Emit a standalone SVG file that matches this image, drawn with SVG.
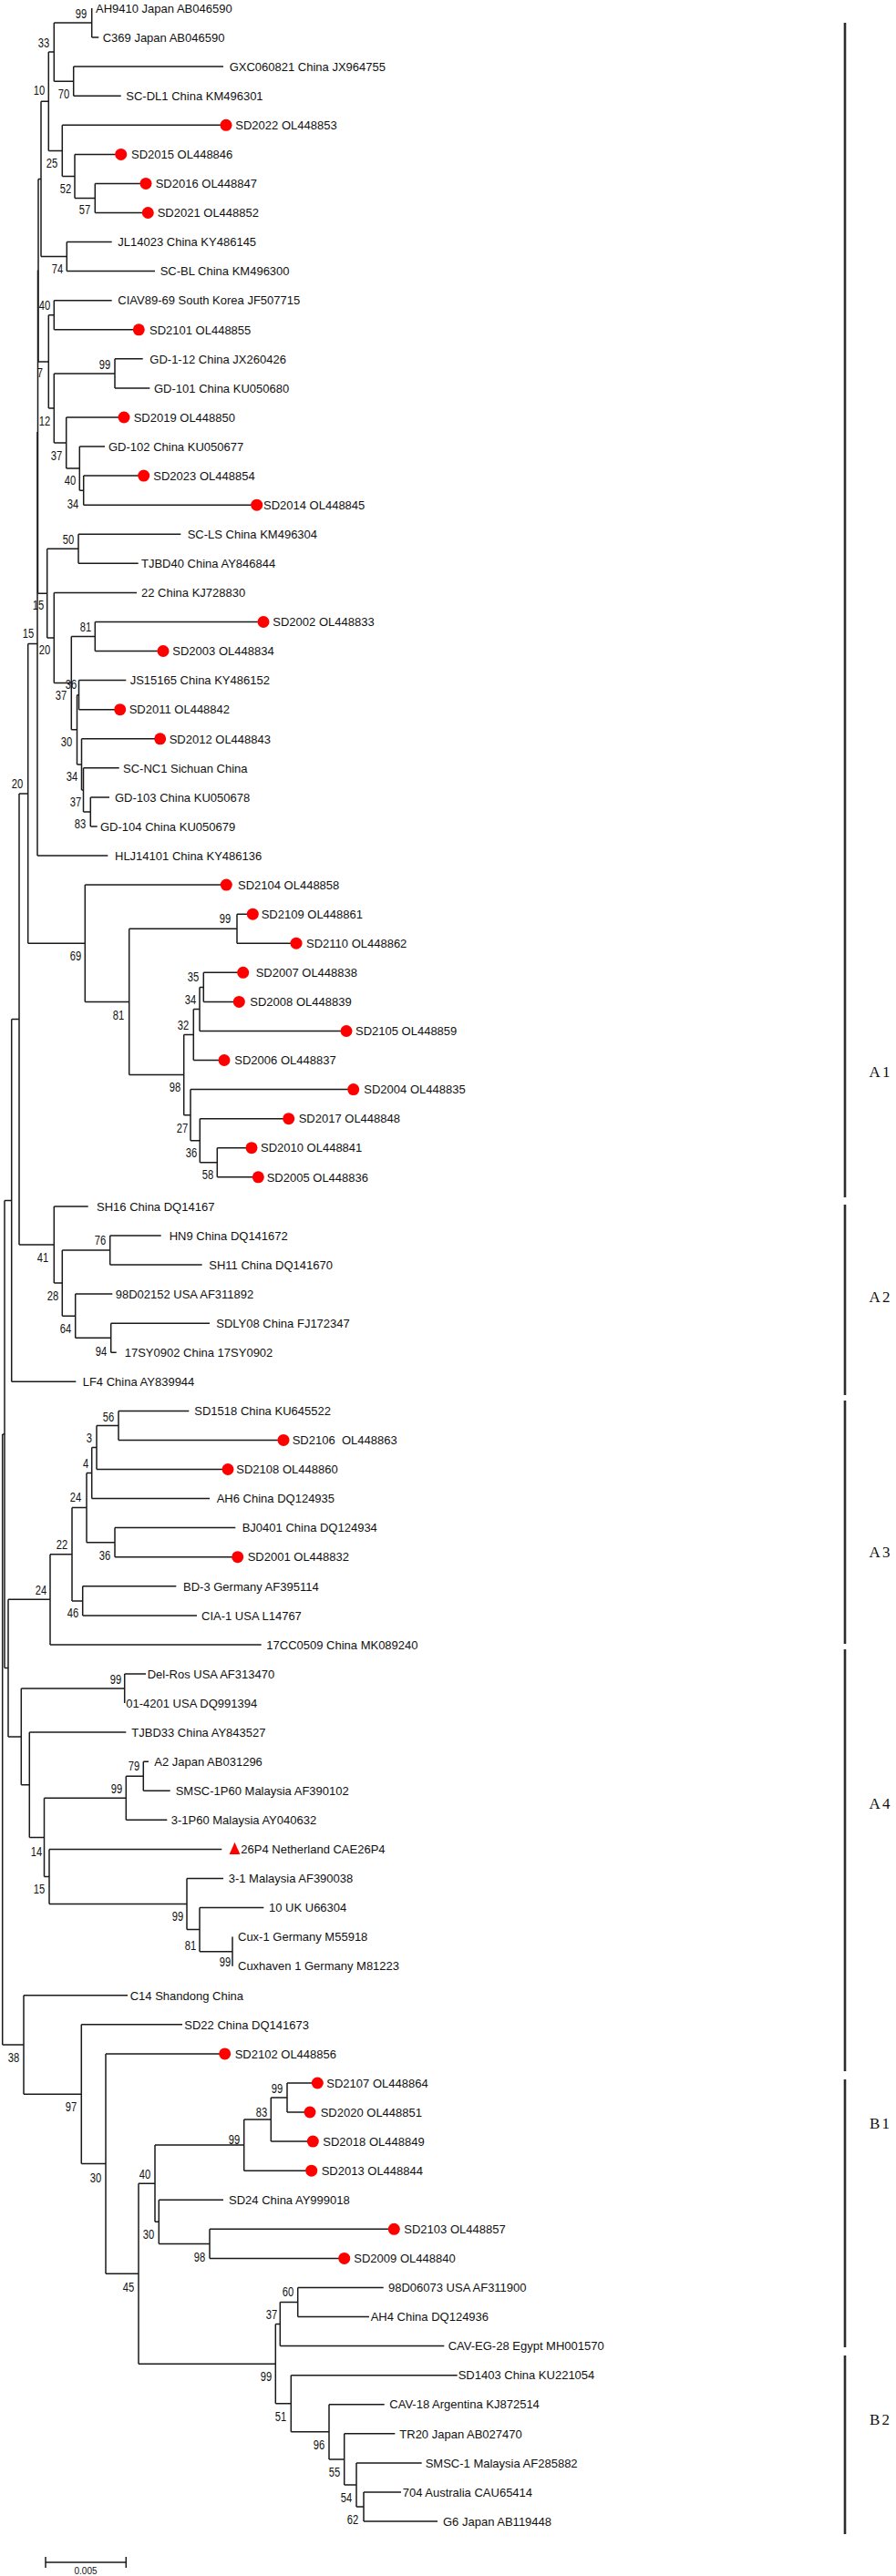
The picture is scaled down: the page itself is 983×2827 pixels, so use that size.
<svg xmlns="http://www.w3.org/2000/svg" width="983" height="2827" viewBox="0 0 983 2827">
<style>
.br{fill:none;stroke:#1a1a1a;stroke-width:1.5}
.lf{font-family:"Liberation Sans",Arial,sans-serif;font-size:13px;fill:#111}
.bs{font-family:"Liberation Sans",Arial,sans-serif;font-size:14px;fill:#111;text-anchor:middle}
.dot{fill:#ff0000}
.bar{stroke:#2b2b2b;stroke-width:2.6}
.cl{font-family:"Liberation Serif",serif;font-size:17px;letter-spacing:2px;text-anchor:middle;fill:#111}
</style>
<rect width="983" height="2827" fill="#fff"/>
<g id="connectors" class="br">
<path d="M2.7 1574V2244M2.7 1574H5M2.7 2244H26"/>
<path d="M5 1317.4V1830.6M5 1317.4H12.7M5 1830.6H9"/>
<path d="M12.7 1118.4V1516.3M12.7 1118.4H21M12.7 1516.3H83.3"/>
<path d="M21 870.9V1366M21 870.9H30.7M21 1366H59.3"/>
<path d="M30.7 706.5V1035.3M30.7 706.5H41M30.7 1035.3H93.3"/>
<path d="M41 473.9V939M41 473.9H41.5M41 939H118.3"/>
<path d="M41.5 296.6V651.2M41.5 651.2H51.7"/>
<path d="M42 196.4V396.9M42 196.4H45M42 396.9H53.3"/>
<path d="M45 111.2V281.6M45 111.2H53.3M45 281.6H73.3"/>
<path d="M53.3 57.1V165.4M53.3 57.1H59.3M53.3 165.4H68.3"/>
<path d="M59.3 25.1V89.2M59.3 25.1H100.7M59.3 89.2H80.7"/>
<path d="M100.7 9V41.1M100.7 41.1H108.3"/>
<path d="M80.7 73.1V105.2M80.7 73.1H245M80.7 105.2H132.7"/>
<path d="M68.3 137.3V193.4M68.3 137.3H248M68.3 193.4H82"/>
<path d="M82 169.4V217.5M82 169.4H132.7M82 217.5H104.3"/>
<path d="M104.3 201.4V233.5M104.3 201.4H160M104.3 233.5H162.3"/>
<path d="M73.3 265.6V297.6M73.3 265.6H122.7M73.3 297.6H170"/>
<path d="M53.3 345.8V448M53.3 345.8H59.3M53.3 448H59.3"/>
<path d="M59.3 329.7V361.8M59.3 329.7H122.7M59.3 361.8H152.3"/>
<path d="M59.3 409.9V486.1M59.3 409.9H126M59.3 486.1H72.7"/>
<path d="M126 393.8V425.9M126 393.8H156.7M126 425.9H164.3"/>
<path d="M72.7 458V514.1M72.7 458H136M72.7 514.1H87.3"/>
<path d="M87.3 490.1V538.2M87.3 490.1H115M87.3 538.2H91.7"/>
<path d="M91.7 522.1V554.2M91.7 522.1H157.7M91.7 554.2H281.7"/>
<path d="M51.7 602.3V700M51.7 602.3H86M51.7 700H59.3"/>
<path d="M86 586.3V618.3M86 586.3H198.3M86 618.3H151.7"/>
<path d="M59.3 650.4V749.6M59.3 650.4H150M59.3 749.6H78.3"/>
<path d="M78.3 698.5V800.8M78.3 698.5H104.3M78.3 800.8H84.5"/>
<path d="M104.3 682.5V714.5M104.3 682.5H289M104.3 714.5H179"/>
<path d="M84.5 762.7V838.9M84.5 762.7H86.5M84.5 838.9H89.5"/>
<path d="M86.5 746.6V778.7M86.5 746.6H138.3M86.5 778.7H131.7"/>
<path d="M89.5 810.8V866.9M89.5 810.8H175.7M89.5 866.9H91.5"/>
<path d="M91.5 842.8V891M91.5 842.8H130.7M91.5 891H99.3"/>
<path d="M99.3 874.9V907M99.3 874.9H120M99.3 907H106.7"/>
<path d="M93.3 971.1V1099.4M93.3 971.1H248.3M93.3 1099.4H141.7"/>
<path d="M141.7 1019.2V1179.6M141.7 1019.2H260M141.7 1179.6H201.7"/>
<path d="M260 1003.2V1035.2M260 1003.2H277.3M260 1035.2H325"/>
<path d="M201.7 1135.5V1223.7M201.7 1135.5H212.3M201.7 1223.7H209"/>
<path d="M212.3 1107.4V1163.5M212.3 1107.4H219M212.3 1163.5H246"/>
<path d="M219 1083.4V1131.5M219 1083.4H223.3M219 1131.5H380"/>
<path d="M223.3 1067.3V1099.4M223.3 1067.3H266.7M223.3 1099.4H262.3"/>
<path d="M209 1195.6V1251.7M209 1195.6H387.7M209 1251.7H219.3"/>
<path d="M219.3 1227.7V1275.8M219.3 1227.7H316.7M219.3 1275.8H238.3"/>
<path d="M238.3 1259.7V1291.8M238.3 1259.7H276M238.3 1291.8H283.3"/>
<path d="M59.3 1323.9V1408.1M59.3 1323.9H96.7M59.3 1408.1H68.3"/>
<path d="M68.3 1372V1444.2M68.3 1372H120.7M68.3 1444.2H82.7"/>
<path d="M120.7 1355.9V1388M120.7 1355.9H176.7M120.7 1388H221.7"/>
<path d="M82.7 1420.1V1468.2M82.7 1420.1H123.3M82.7 1468.2H121.7"/>
<path d="M121.7 1452.2V1484.2M121.7 1452.2H230M121.7 1484.2H127.7"/>
<path d="M9 1755.3V1905.9M9 1755.3H55M9 1905.9H23.3"/>
<path d="M55 1705.7V1804.9M55 1705.7H79M55 1804.9H286.7"/>
<path d="M79 1654.6V1756.9M79 1654.6H95M79 1756.9H90.7"/>
<path d="M95 1616.5V1692.7M95 1616.5H100.7M95 1692.7H126"/>
<path d="M100.7 1588.5V1644.6M100.7 1588.5H106M100.7 1644.6H230"/>
<path d="M106 1564.4V1612.5M106 1564.4H130M106 1612.5H250"/>
<path d="M130 1548.4V1580.4M130 1548.4H207.3M130 1580.4H311"/>
<path d="M126 1676.6V1708.7M126 1676.6H258.3M126 1708.7H260.7"/>
<path d="M90.7 1740.8V1772.9M90.7 1740.8H193.3M90.7 1772.9H216"/>
<path d="M23.3 1853.1V1958.8M23.3 1853.1H136.7M23.3 1958.8H32.3"/>
<path d="M136.7 1837V1869.1M136.7 1837H160"/>
<path d="M32.3 1901.1V2016.4M32.3 1901.1H138.3M32.3 2016.4H48.5"/>
<path d="M48.5 1973.3V2059.5M48.5 1973.3H138.3M48.5 2059.5H54"/>
<path d="M138.3 1949.3V1997.3M138.3 1949.3H157.3M138.3 1997.3H183.3"/>
<path d="M157.3 1933.2V1965.3M157.3 1933.2H163M157.3 1965.3H186.7"/>
<path d="M54 2029.4V2089.6M54 2029.4H243.3M54 2089.6H205"/>
<path d="M205 2061.5V2117.6M205 2061.5H245M205 2117.6H219"/>
<path d="M219 2093.6V2141.7M219 2093.6H289.3M219 2141.7H255"/>
<path d="M255 2125.6V2157.7"/>
<path d="M26 2189.8V2298.2M26 2189.8H140M26 2298.2H89.3"/>
<path d="M89.3 2221.8V2374.6M89.3 2221.8H200M89.3 2374.6H116"/>
<path d="M116 2253.9V2495.2M116 2253.9H246.7M116 2495.2H152"/>
<path d="M152 2396.2V2594.2M152 2396.2H170M152 2594.2H302.3"/>
<path d="M170 2354.1V2438.3M170 2354.1H267.7M170 2438.3H174.3"/>
<path d="M267.7 2326.1V2382.2M267.7 2326.1H297.3M267.7 2382.2H341.7"/>
<path d="M297.3 2302V2350.1M297.3 2302H315M297.3 2350.1H343.3"/>
<path d="M315 2286V2318M315 2286H348.3M315 2318H340"/>
<path d="M174.3 2414.3V2462.4M174.3 2414.3H245M174.3 2462.4H230"/>
<path d="M230 2446.3V2478.4M230 2446.3H432.3M230 2478.4H377.7"/>
<path d="M302.3 2550.6V2637.8M302.3 2550.6H307.3M302.3 2637.8H319.3"/>
<path d="M307.3 2526.5V2574.6M307.3 2526.5H326.7M307.3 2574.6H487.3"/>
<path d="M326.7 2510.5V2542.5M326.7 2510.5H420.7M326.7 2542.5H405"/>
<path d="M319.3 2606.7V2668.8M319.3 2606.7H501.7M319.3 2668.8H361"/>
<path d="M361 2638.7V2698.9M361 2638.7H421.7M361 2698.9H377.7"/>
<path d="M377.7 2670.8V2727M377.7 2670.8H433.3M377.7 2727H391"/>
<path d="M391 2702.9V2751M391 2702.9H462.7M391 2751H399"/>
<path d="M399 2735V2767M399 2735H440M399 2767H480"/>
</g>
<g id="leaves">
<g id="n00"><text class="lf" x="105" y="13.7">AH9410 Japan AB046590</text></g>
<g id="n01"><text class="lf" x="112.7" y="45.8">C369 Japan AB046590</text></g>
<g id="n02"><text class="lf" x="251.7" y="77.8">GXC060821 China JX964755</text></g>
<g id="n03"><text class="lf" x="138.3" y="109.9">SC-DL1 China KM496301</text></g>
<g id="n04"><circle class="dot" cx="248" cy="137.3" r="6.5"/><text class="lf" x="258.3" y="142">SD2022 OL448853</text></g>
<g id="n05"><circle class="dot" cx="132.7" cy="169.4" r="6.5"/><text class="lf" x="144" y="174.1">SD2015 OL448846</text></g>
<g id="n06"><circle class="dot" cx="160" cy="201.4" r="6.5"/><text class="lf" x="170.7" y="206.1">SD2016 OL448847</text></g>
<g id="n07"><circle class="dot" cx="162.3" cy="233.5" r="6.5"/><text class="lf" x="172.7" y="238.2">SD2021 OL448852</text></g>
<g id="n08"><text class="lf" x="129.3" y="270.3">JL14023 China KY486145</text></g>
<g id="n09"><text class="lf" x="175.7" y="302.3">SC-BL China KM496300</text></g>
<g id="n10"><text class="lf" x="129.3" y="334.4">CIAV89-69 South Korea JF507715</text></g>
<g id="n11"><circle class="dot" cx="152.3" cy="361.8" r="6.5"/><text class="lf" x="164" y="366.5">SD2101 OL448855</text></g>
<g id="n12"><text class="lf" x="164.3" y="398.5">GD-1-12 China JX260426</text></g>
<g id="n13"><text class="lf" x="169" y="430.6">GD-101 China KU050680</text></g>
<g id="n14"><circle class="dot" cx="136" cy="458" r="6.5"/><text class="lf" x="146.7" y="462.7">SD2019 OL448850</text></g>
<g id="n15"><text class="lf" x="119" y="494.8">GD-102 China KU050677</text></g>
<g id="n16"><circle class="dot" cx="157.7" cy="522.1" r="6.5"/><text class="lf" x="168.3" y="526.8">SD2023 OL448854</text></g>
<g id="n17"><circle class="dot" cx="281.7" cy="554.2" r="6.5"/><text class="lf" x="289" y="558.9">SD2014 OL448845</text></g>
<g id="n18"><text class="lf" x="205.7" y="591">SC-LS China KM496304</text></g>
<g id="n19"><text class="lf" x="155" y="623">TJBD40 China AY846844</text></g>
<g id="n20"><text class="lf" x="155" y="655.1">22 China KJ728830</text></g>
<g id="n21"><circle class="dot" cx="289" cy="682.5" r="6.5"/><text class="lf" x="299.3" y="687.2">SD2002 OL448833</text></g>
<g id="n22"><circle class="dot" cx="179" cy="714.5" r="6.5"/><text class="lf" x="189.3" y="719.2">SD2003 OL448834</text></g>
<g id="n23"><text class="lf" x="142.7" y="751.3">JS15165 China KY486152</text></g>
<g id="n24"><circle class="dot" cx="131.7" cy="778.7" r="6.5"/><text class="lf" x="141.7" y="783.4">SD2011 OL448842</text></g>
<g id="n25"><circle class="dot" cx="175.7" cy="810.8" r="6.5"/><text class="lf" x="185.7" y="815.5">SD2012 OL448843</text></g>
<g id="n26"><text class="lf" x="135" y="847.5">SC-NC1 Sichuan China</text></g>
<g id="n27"><text class="lf" x="126" y="879.6">GD-103 China KU050678</text></g>
<g id="n28"><text class="lf" x="110" y="911.7">GD-104 China KU050679</text></g>
<g id="n29"><text class="lf" x="126" y="943.7">HLJ14101 China KY486136</text></g>
<g id="n30"><circle class="dot" cx="248.3" cy="971.1" r="6.5"/><text class="lf" x="261" y="975.8">SD2104 OL448858</text></g>
<g id="n31"><circle class="dot" cx="277.3" cy="1003.2" r="6.5"/><text class="lf" x="286.7" y="1007.9">SD2109 OL448861</text></g>
<g id="n32"><circle class="dot" cx="325" cy="1035.2" r="6.5"/><text class="lf" x="336" y="1039.9">SD2110 OL448862</text></g>
<g id="n33"><circle class="dot" cx="266.7" cy="1067.3" r="6.5"/><text class="lf" x="280.7" y="1072">SD2007 OL448838</text></g>
<g id="n34"><circle class="dot" cx="262.3" cy="1099.4" r="6.5"/><text class="lf" x="274.3" y="1104.1">SD2008 OL448839</text></g>
<g id="n35"><circle class="dot" cx="380" cy="1131.5" r="6.5"/><text class="lf" x="390" y="1136.2">SD2105 OL448859</text></g>
<g id="n36"><circle class="dot" cx="246" cy="1163.5" r="6.5"/><text class="lf" x="257.3" y="1168.2">SD2006 OL448837</text></g>
<g id="n37"><circle class="dot" cx="387.7" cy="1195.6" r="6.5"/><text class="lf" x="399.3" y="1200.3">SD2004 OL448835</text></g>
<g id="n38"><circle class="dot" cx="316.7" cy="1227.7" r="6.5"/><text class="lf" x="327.7" y="1232.4">SD2017 OL448848</text></g>
<g id="n39"><circle class="dot" cx="276" cy="1259.7" r="6.5"/><text class="lf" x="286" y="1264.4">SD2010 OL448841</text></g>
<g id="n40"><circle class="dot" cx="283.3" cy="1291.8" r="6.5"/><text class="lf" x="292.7" y="1296.5">SD2005 OL448836</text></g>
<g id="n41"><text class="lf" x="106" y="1328.6">SH16 China DQ14167</text></g>
<g id="n42"><text class="lf" x="185.7" y="1360.6">HN9 China DQ141672</text></g>
<g id="n43"><text class="lf" x="229.3" y="1392.7">SH11 China DQ141670</text></g>
<g id="n44"><text class="lf" x="126.7" y="1424.8">98D02152 USA AF311892</text></g>
<g id="n45"><text class="lf" x="237.3" y="1456.9">SDLY08 China FJ172347</text></g>
<g id="n46"><text class="lf" x="136.7" y="1488.9">17SY0902 China 17SY0902</text></g>
<g id="n47"><text class="lf" x="90.7" y="1521">LF4 China AY839944</text></g>
<g id="n48"><text class="lf" x="213.3" y="1553.1">SD1518 China KU645522</text></g>
<g id="n49"><circle class="dot" cx="311" cy="1580.4" r="6.5"/><text class="lf" x="320.7" y="1585.1" xml:space="preserve">SD2106  OL448863</text></g>
<g id="n50"><circle class="dot" cx="250" cy="1612.5" r="6.5"/><text class="lf" x="259.3" y="1617.2">SD2108 OL448860</text></g>
<g id="n51"><text class="lf" x="237.7" y="1649.3">AH6 China DQ124935</text></g>
<g id="n52"><text class="lf" x="265.7" y="1681.3">BJ0401 China DQ124934</text></g>
<g id="n53"><circle class="dot" cx="260.7" cy="1708.7" r="6.5"/><text class="lf" x="271.7" y="1713.4">SD2001 OL448832</text></g>
<g id="n54"><text class="lf" x="201" y="1745.5">BD-3 Germany AF395114</text></g>
<g id="n55"><text class="lf" x="221" y="1777.6">CIA-1 USA L14767</text></g>
<g id="n56"><text class="lf" x="292.3" y="1809.6">17CC0509 China MK089240</text></g>
<g id="n57"><text class="lf" x="161.7" y="1841.7">Del-Ros USA AF313470</text></g>
<g id="n58"><text class="lf" x="138.3" y="1873.8">01-4201 USA DQ991394</text></g>
<g id="n59"><text class="lf" x="144.3" y="1905.8">TJBD33 China AY843527</text></g>
<g id="n60"><text class="lf" x="169.3" y="1937.9">A2 Japan AB031296</text></g>
<g id="n61"><text class="lf" x="192.7" y="1970">SMSC-1P60 Malaysia AF390102</text></g>
<g id="n62"><text class="lf" x="187.7" y="2002">3-1P60 Malaysia AY040632</text></g>
<g id="n63"><polygon class="dot" points="257.5,2021.8 251.6,2035 263.4,2035"/><text class="lf" x="264.3" y="2034.1">26P4 Netherland CAE26P4</text></g>
<g id="n64"><text class="lf" x="250.7" y="2066.2">3-1 Malaysia AF390038</text></g>
<g id="n65"><text class="lf" x="295" y="2098.3">10 UK U66304</text></g>
<g id="n66"><text class="lf" x="261" y="2130.3">Cux-1 Germany M55918</text></g>
<g id="n67"><text class="lf" x="261" y="2162.4">Cuxhaven 1 Germany M81223</text></g>
<g id="n68"><text class="lf" x="142.7" y="2194.5">C14 Shandong China</text></g>
<g id="n69"><text class="lf" x="202.3" y="2226.5">SD22 China DQ141673</text></g>
<g id="n70"><circle class="dot" cx="246.7" cy="2253.9" r="6.5"/><text class="lf" x="257.7" y="2258.6">SD2102 OL448856</text></g>
<g id="n71"><circle class="dot" cx="348.3" cy="2286" r="6.5"/><text class="lf" x="358.3" y="2290.7">SD2107 OL448864</text></g>
<g id="n72"><circle class="dot" cx="340" cy="2318" r="6.5"/><text class="lf" x="351.7" y="2322.7">SD2020 OL448851</text></g>
<g id="n73"><circle class="dot" cx="343.3" cy="2350.1" r="6.5"/><text class="lf" x="354.3" y="2354.8">SD2018 OL448849</text></g>
<g id="n74"><circle class="dot" cx="341.7" cy="2382.2" r="6.5"/><text class="lf" x="352.7" y="2386.9">SD2013 OL448844</text></g>
<g id="n75"><text class="lf" x="251" y="2419">SD24 China AY999018</text></g>
<g id="n76"><circle class="dot" cx="432.3" cy="2446.3" r="6.5"/><text class="lf" x="443.3" y="2451">SD2103 OL448857</text></g>
<g id="n77"><circle class="dot" cx="377.7" cy="2478.4" r="6.5"/><text class="lf" x="388.3" y="2483.1">SD2009 OL448840</text></g>
<g id="n78"><text class="lf" x="426" y="2515.2">98D06073 USA AF311900</text></g>
<g id="n79"><text class="lf" x="406.7" y="2547.2">AH4 China DQ124936</text></g>
<g id="n80"><text class="lf" x="491.7" y="2579.3">CAV-EG-28 Egypt MH001570</text></g>
<g id="n81"><text class="lf" x="502.7" y="2611.4">SD1403 China KU221054</text></g>
<g id="n82"><text class="lf" x="427.3" y="2643.4">CAV-18 Argentina KJ872514</text></g>
<g id="n83"><text class="lf" x="438.3" y="2675.5">TR20 Japan AB027470</text></g>
<g id="n84"><text class="lf" x="466.7" y="2707.6">SMSC-1 Malaysia AF285882</text></g>
<g id="n85"><text class="lf" x="441.7" y="2739.7">704 Australia CAU65414</text></g>
<g id="n86"><text class="lf" x="486" y="2771.7">G6 Japan AB119448</text></g>
</g>
<g id="bootstrap" class="bs" transform="scale(0.8 1)">
<text x="111.25" y="20">99</text><text x="60" y="52">33</text><text x="87.5" y="108">70</text><text x="53.75" y="104">10</text>
<text x="71.25" y="184">25</text><text x="90" y="212">52</text><text x="116.25" y="235">57</text><text x="78.75" y="300">74</text>
<text x="61.25" y="340">40</text><text x="55" y="414">7</text><text x="143.75" y="405">99</text><text x="61.25" y="467">12</text>
<text x="77.5" y="505">37</text><text x="96.25" y="532">40</text><text x="100" y="558">34</text><text x="93.75" y="597">50</text>
<text x="52.5" y="669">15</text><text x="38.75" y="700">15</text><text x="61.25" y="718">20</text><text x="117.5" y="693">81</text>
<text x="97.5" y="756">36</text><text x="83.75" y="768">37</text><text x="91.25" y="819">30</text><text x="98.75" y="857">34</text>
<text x="103.75" y="885">37</text><text x="110" y="909">83</text><text x="23.75" y="865">20</text><text x="308.75" y="1013">99</text>
<text x="103.75" y="1054">69</text><text x="265" y="1077">35</text><text x="261.25" y="1102">34</text><text x="162.5" y="1119">81</text>
<text x="251.25" y="1130">32</text><text x="240" y="1198">98</text><text x="250" y="1243">27</text><text x="262.5" y="1270">36</text>
<text x="285" y="1294">58</text><text x="58.75" y="1385">41</text><text x="137.5" y="1366">76</text><text x="72.5" y="1427">28</text>
<text x="90" y="1463">64</text><text x="138.75" y="1488">94</text><text x="148.75" y="1560">56</text><text x="122.5" y="1583">3</text>
<text x="117.5" y="1611">4</text><text x="103.75" y="1648">24</text><text x="85" y="1700">22</text><text x="143.75" y="1712">36</text>
<text x="56.25" y="1750">24</text><text x="100" y="1775">46</text><text x="158.75" y="1848">99</text><text x="183.75" y="1943">79</text>
<text x="160" y="1968">99</text><text x="50" y="2037">14</text><text x="53.75" y="2078">15</text><text x="243.75" y="2108">99</text>
<text x="261.25" y="2140">81</text><text x="308.75" y="2158">99</text><text x="18.75" y="2263">38</text><text x="380" y="2297">99</text>
<text x="97.5" y="2317">97</text><text x="358.75" y="2323">83</text><text x="321.25" y="2353">99</text><text x="198.75" y="2391">40</text>
<text x="131.25" y="2395">30</text><text x="203.75" y="2457">30</text><text x="273.75" y="2482">98</text><text x="176.25" y="2515">45</text>
<text x="395" y="2520">60</text><text x="372.5" y="2545">37</text><text x="365" y="2613">99</text><text x="385" y="2657">51</text>
<text x="437.5" y="2688">96</text><text x="458.75" y="2718">55</text><text x="475" y="2746">54</text><text x="483.75" y="2770">62</text>
</g>
<g id="clades">
<line class="bar" x1="927" y1="25" x2="927" y2="1314"/>
<line class="bar" x1="927" y1="1322" x2="927" y2="1531"/>
<line class="bar" x1="927" y1="1537" x2="927" y2="1804"/>
<line class="bar" x1="927" y1="1810" x2="927" y2="2273"/>
<line class="bar" x1="927" y1="2282" x2="927" y2="2576"/>
<line class="bar" x1="927" y1="2585" x2="927" y2="2781"/>
<text class="cl" x="966" y="1182">A1</text>
<text class="cl" x="966" y="1429">A2</text>
<text class="cl" x="966" y="1709">A3</text>
<text class="cl" x="966" y="1985">A4</text>
<text class="cl" x="966" y="2336">B1</text>
<text class="cl" x="966" y="2661">B2</text>
</g>
<g id="scale-bar">
<path class="br" d="M50 2812H138.3M50 2806V2818M138.3 2806V2818"/>
<text x="94" y="2825" text-anchor="middle" style="font-family:'Liberation Sans',Arial,sans-serif;font-size:10px;fill:#111">0.005</text>
</g>
</svg>
